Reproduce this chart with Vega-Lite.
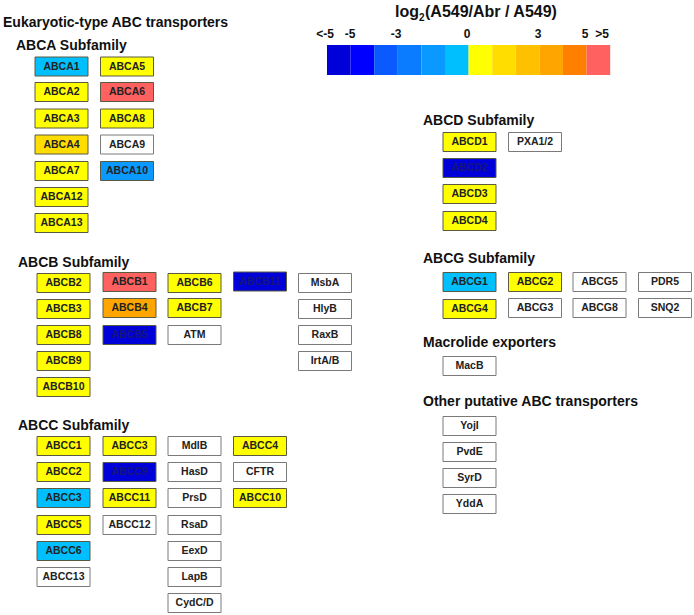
{
  "$schema": "https://vega.github.io/schema/vega-lite/v6.json",
  "autosize": {"type": "fit", "contains": "padding"},
  "width": 694,
  "height": 615,
  "padding": 0,
  "background": "white",
  "config": {"view": {"stroke": null}, "font": "Liberation Sans"},
  "datasets": {
    "boxes": [
      {"label": "ABCA1", "x": 61.5, "y": 66.5, "level": "L6"},
      {"label": "ABCA2", "x": 61.5, "y": 92, "level": "L7"},
      {"label": "ABCA3", "x": 61.5, "y": 118.5, "level": "L7"},
      {"label": "ABCA4", "x": 61.5, "y": 144.5, "level": "L8"},
      {"label": "ABCA7", "x": 61.5, "y": 171, "level": "L7"},
      {"label": "ABCA12", "x": 61.5, "y": 197, "level": "L7"},
      {"label": "ABCA13", "x": 61.5, "y": 223, "level": "L7"},
      {"label": "ABCA5", "x": 127, "y": 66.5, "level": "L7"},
      {"label": "ABCA6", "x": 127, "y": 92, "level": "L12"},
      {"label": "ABCA8", "x": 127, "y": 118.5, "level": "L7"},
      {"label": "ABCA9", "x": 127, "y": 144.5, "level": "none"},
      {"label": "ABCA10", "x": 127, "y": 171, "level": "L5"},

      {"label": "ABCB2", "x": 63.5, "y": 283, "level": "L7"},
      {"label": "ABCB3", "x": 63.5, "y": 309, "level": "L7"},
      {"label": "ABCB8", "x": 63.5, "y": 335, "level": "L7"},
      {"label": "ABCB9", "x": 63.5, "y": 361, "level": "L7"},
      {"label": "ABCB10", "x": 63.5, "y": 387, "level": "L7"},
      {"label": "ABCB1", "x": 129.5, "y": 282, "level": "L12"},
      {"label": "ABCB4", "x": 129.5, "y": 308, "level": "L10"},
      {"label": "ABCB5", "x": 129.5, "y": 335, "level": "L1"},
      {"label": "ABCB6", "x": 194.5, "y": 283, "level": "L7"},
      {"label": "ABCB7", "x": 194.5, "y": 308, "level": "L7"},
      {"label": "ATM", "x": 194.5, "y": 335, "level": "none"},
      {"label": "ABCB11", "x": 260, "y": 281.5, "level": "L1"},
      {"label": "MsbA", "x": 325, "y": 283, "level": "none"},
      {"label": "HlyB", "x": 325, "y": 309, "level": "none"},
      {"label": "RaxB", "x": 325, "y": 335, "level": "none"},
      {"label": "IrtA/B", "x": 325, "y": 361, "level": "none"},

      {"label": "ABCC1", "x": 63.5, "y": 446, "level": "L7"},
      {"label": "ABCC2", "x": 63.5, "y": 472, "level": "L7"},
      {"label": "ABCC3", "x": 63.5, "y": 498, "level": "L6"},
      {"label": "ABCC5", "x": 63.5, "y": 525, "level": "L7"},
      {"label": "ABCC6", "x": 63.5, "y": 551, "level": "L6"},
      {"label": "ABCC13", "x": 63.5, "y": 577, "level": "none"},
      {"label": "ABCC3", "x": 129.5, "y": 446, "level": "L7"},
      {"label": "ABCC9", "x": 129.5, "y": 472, "level": "L1"},
      {"label": "ABCC11", "x": 129.5, "y": 498, "level": "L7"},
      {"label": "ABCC12", "x": 129.5, "y": 525, "level": "none"},
      {"label": "MdlB", "x": 194.5, "y": 446, "level": "none"},
      {"label": "HasD", "x": 194.5, "y": 472, "level": "none"},
      {"label": "PrsD", "x": 194.5, "y": 498, "level": "none"},
      {"label": "RsaD", "x": 194.5, "y": 525, "level": "none"},
      {"label": "EexD", "x": 194.5, "y": 551, "level": "none"},
      {"label": "LapB", "x": 194.5, "y": 577, "level": "none"},
      {"label": "CydC/D", "x": 194.5, "y": 603, "level": "none"},
      {"label": "ABCC4", "x": 260, "y": 446, "level": "L7"},
      {"label": "CFTR", "x": 260, "y": 472, "level": "none"},
      {"label": "ABCC10", "x": 260, "y": 498, "level": "L7"},

      {"label": "ABCD1", "x": 469.5, "y": 142, "level": "L7"},
      {"label": "PXA1/2", "x": 535, "y": 142, "level": "none"},
      {"label": "ABCD2", "x": 469.5, "y": 168, "level": "L1"},
      {"label": "ABCD3", "x": 469.5, "y": 194, "level": "L7"},
      {"label": "ABCD4", "x": 469.5, "y": 221, "level": "L7"},

      {"label": "ABCG1", "x": 469.5, "y": 282, "level": "L6"},
      {"label": "ABCG2", "x": 535, "y": 282, "level": "L7"},
      {"label": "ABCG5", "x": 599.5, "y": 282, "level": "none"},
      {"label": "PDR5", "x": 665, "y": 282, "level": "none"},
      {"label": "ABCG4", "x": 469.5, "y": 309, "level": "L7"},
      {"label": "ABCG3", "x": 535, "y": 308, "level": "none"},
      {"label": "ABCG8", "x": 599.5, "y": 308, "level": "none"},
      {"label": "SNQ2", "x": 665, "y": 308, "level": "none"},

      {"label": "MacB", "x": 469.5, "y": 366, "level": "none"},
      {"label": "YojI", "x": 469.5, "y": 426, "level": "none"},
      {"label": "PvdE", "x": 469.5, "y": 452, "level": "none"},
      {"label": "SyrD", "x": 469.5, "y": 478, "level": "none"},
      {"label": "YddA", "x": 469.5, "y": 504, "level": "none"}
    ],
    "legend": [
      {"level": "L1", "x0": 327, "x1": 350.6},
      {"level": "L2", "x0": 350.6, "x1": 374.2},
      {"level": "L3", "x0": 374.2, "x1": 397.8},
      {"level": "L4", "x0": 397.8, "x1": 421.4},
      {"level": "L5", "x0": 421.4, "x1": 445},
      {"level": "L6", "x0": 445, "x1": 468.6},
      {"level": "L7", "x0": 468.6, "x1": 492.2},
      {"level": "L8", "x0": 492.2, "x1": 515.8},
      {"level": "L9", "x0": 515.8, "x1": 539.4},
      {"level": "L10", "x0": 539.4, "x1": 563},
      {"level": "L11", "x0": 563, "x1": 586.6},
      {"level": "L12", "x0": 586.6, "x1": 610.2}
    ],
    "ticks": [
      {"t": "<-5", "x": 325, "y": 34},
      {"t": "-5", "x": 350, "y": 34},
      {"t": "-3", "x": 396, "y": 34},
      {"t": "0", "x": 467, "y": 34},
      {"t": "3", "x": 538, "y": 34},
      {"t": "5", "x": 585, "y": 34},
      {"t": ">5", "x": 602, "y": 34}
    ],
    "headers": [
      {"text": "Eukaryotic-type ABC transporters", "x": 3, "y": 22.5},
      {"text": "ABCA Subfamily", "x": 16, "y": 46},
      {"text": "ABCB Subfamily", "x": 18, "y": 263},
      {"text": "ABCC Subfamily", "x": 18, "y": 426},
      {"text": "ABCD Subfamily", "x": 423, "y": 121},
      {"text": "ABCG Subfamily", "x": 423, "y": 259},
      {"text": "Macrolide exporters", "x": 423, "y": 343},
      {"text": "Other putative ABC transporters", "x": 423, "y": 402}
    ],
    "titleMain": [
      {"text": "log", "x": 395, "y": 12},
      {"text": "(A549/Abr / A549)", "x": 425, "y": 12}
    ],
    "titleSub": [
      {"text": "2", "x": 419, "y": 18}
    ]
  },
  "layer": [
    {
      "data": {"name": "legend"},
      "mark": {"type": "rect", "strokeWidth": 0},
      "encoding": {
        "x": {"field": "x0", "type": "quantitative", "scale": {"domain": [0, 694], "nice": false, "zero": false}, "axis": null},
        "x2": {"field": "x1"},
        "y": {"datum": 45, "type": "quantitative", "scale": {"domain": [0, 615], "nice": false, "zero": false, "reverse": true}, "axis": null},
        "y2": {"datum": 75},
        "fill": {"field": "level", "type": "nominal", "legend": null,
          "scale": {
            "domain": ["L1","L2","L3","L4","L5","L6","L7","L8","L9","L10","L11","L12","none"],
            "range": ["#0000D8","#0000FF","#0A5AFF","#0A7CFF","#0A9AFF","#00BFFF","#FFFF00","#FFDD00","#FFC000","#FFA500","#FF8000","#FF6060","#FFFFFF"]
          }}
      }
    },
    {
      "data": {"name": "boxes"},
      "mark": {"type": "rect", "width": 53, "height": 19, "strokeWidth": 1},
      "encoding": {
        "x": {"field": "x", "type": "quantitative", "axis": null},
        "y": {"field": "y", "type": "quantitative", "axis": null},
        "fill": {"field": "level", "type": "nominal", "legend": null},
        "stroke": {"condition": {"test": "datum.level === 'none'", "value": "#7a7a7a"}, "value": "#5a5a40"}
      }
    },
    {
      "data": {"name": "boxes"},
      "mark": {"type": "text", "fontSize": 10.5, "fontWeight": "bold", "font": "Liberation Sans", "align": "center", "baseline": "middle"},
      "encoding": {
        "x": {"field": "x", "type": "quantitative", "axis": null},
        "y": {"field": "y", "type": "quantitative", "axis": null},
        "text": {"field": "label"},
        "color": {"condition": {"test": "datum.level === 'L1'", "value": "#16167a"}, "value": "#222222"}
      }
    },
    {
      "data": {"name": "headers"},
      "mark": {"type": "text", "fontSize": 14, "fontWeight": "bold", "font": "Liberation Sans", "align": "left", "baseline": "middle", "color": "#111111"},
      "encoding": {
        "x": {"field": "x", "type": "quantitative", "axis": null},
        "y": {"field": "y", "type": "quantitative", "axis": null},
        "text": {"field": "text"}
      }
    },
    {
      "data": {"name": "ticks"},
      "mark": {"type": "text", "fontSize": 12, "fontWeight": "bold", "font": "Liberation Sans", "align": "center", "baseline": "middle", "color": "#111111"},
      "encoding": {
        "x": {"field": "x", "type": "quantitative", "axis": null},
        "y": {"field": "y", "type": "quantitative", "axis": null},
        "text": {"field": "t"}
      }
    },
    {
      "data": {"name": "titleMain"},
      "mark": {"type": "text", "fontSize": 16, "fontWeight": "bold", "font": "Liberation Sans", "align": "left", "baseline": "middle", "color": "#111111"},
      "encoding": {
        "x": {"field": "x", "type": "quantitative", "axis": null},
        "y": {"field": "y", "type": "quantitative", "axis": null},
        "text": {"field": "text"}
      }
    },
    {
      "data": {"name": "titleSub"},
      "mark": {"type": "text", "fontSize": 10, "fontWeight": "bold", "font": "Liberation Sans", "align": "left", "baseline": "middle", "color": "#111111"},
      "encoding": {
        "x": {"field": "x", "type": "quantitative", "axis": null},
        "y": {"field": "y", "type": "quantitative", "axis": null},
        "text": {"field": "text"}
      }
    }
  ]
}
